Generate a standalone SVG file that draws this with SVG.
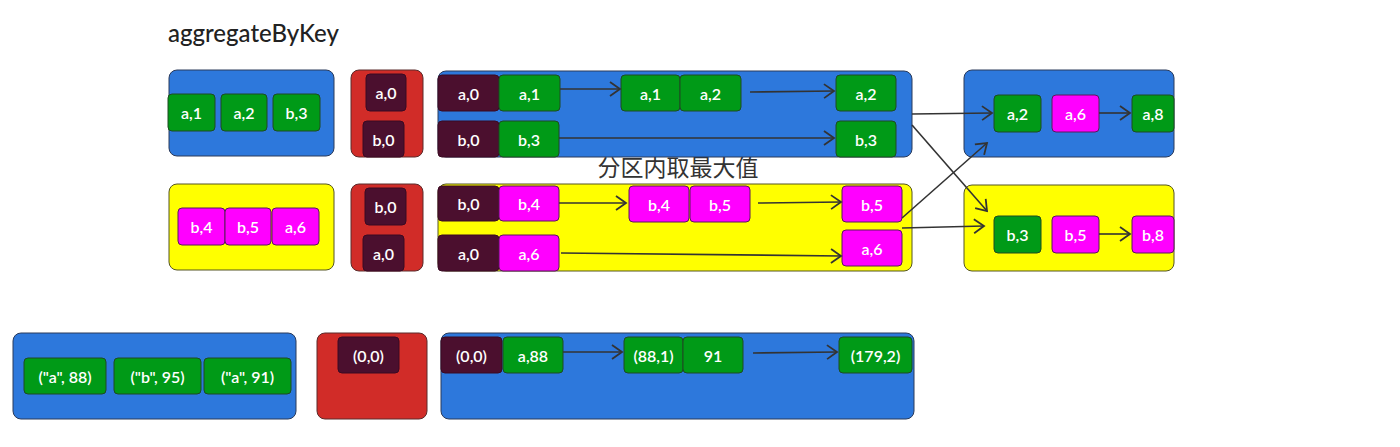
<svg xmlns="http://www.w3.org/2000/svg" width="1400" height="447" viewBox="0 0 1400 447">
<defs>
<style>
.bg{fill:#ffffff}
.blue{fill:#2d78dc;stroke:#2a3a5a;stroke-width:1}
.yel{fill:#ffff00;stroke:#555522;stroke-width:1}
.red{fill:#d12c28;stroke:#5a2a2a;stroke-width:1}
.g{fill:#009a17;stroke:#1f4a22;stroke-width:1}
.m{fill:#ff00ff;stroke:#5a1a5a;stroke-width:1}
.d{fill:#4b0f2e;stroke:#3a0a22;stroke-width:1}
.t{font-family:"Lato","Liberation Sans",sans-serif;font-size:16px;font-weight:600;fill:#ffffff;text-anchor:middle;dominant-baseline:central}
.title{font-family:"Lato","Liberation Sans",sans-serif;font-size:24px;font-weight:500;fill:#222}
.cn{font-family:"Noto Sans CJK SC",sans-serif;font-size:23px;fill:#333;text-anchor:middle}
.ar{fill:none;stroke:#333;stroke-width:1.6}
</style>
<marker id="ah" markerUnits="userSpaceOnUse" markerWidth="14" markerHeight="16" refX="11" refY="8" orient="auto">
<path d="M1,1 L11,8 L1,15" fill="none" stroke="#333" stroke-width="1.8"/>
</marker>
</defs>
<rect class="bg" x="0" y="0" width="1400" height="447"/>
<text class="title" x="168" y="42">aggregateByKey</text>
<text class="cn" x="678" y="176">分区内取最大值</text>

<g id="src1"><rect class="blue" x="169" y="70" width="165" height="86" rx="8"/>
<rect class="g" x="168" y="94" width="47" height="37" rx="4"/><text class="t" x="191.5" y="112.5">a,1</text>
<rect class="g" x="221" y="94" width="46" height="37" rx="4"/><text class="t" x="244" y="112.5">a,2</text>
<rect class="g" x="273" y="94" width="47" height="37" rx="4"/><text class="t" x="296.5" y="112.5">b,3</text></g>

<g id="src2"><rect class="yel" x="169" y="184" width="165" height="86" rx="8"/>
<rect class="m" x="178" y="208" width="47" height="37" rx="4"/><text class="t" x="201.5" y="226.5">b,4</text>
<rect class="m" x="225" y="208" width="46" height="37" rx="4"/><text class="t" x="248" y="226.5">b,5</text>
<rect class="m" x="272" y="208" width="47" height="37" rx="4"/><text class="t" x="295.5" y="226.5">a,6</text></g>

<g id="init1"><rect class="red" x="351" y="70" width="72" height="87" rx="8"/>
<rect class="d" x="366" y="74" width="40" height="37" rx="4"/><text class="t" x="386" y="92.5">a,0</text>
<rect class="d" x="363" y="121" width="41" height="36" rx="4"/><text class="t" x="383.5" y="139">b,0</text></g>

<g id="init2"><rect class="red" x="351" y="184" width="72" height="87" rx="8"/>
<rect class="d" x="365" y="188" width="41" height="37" rx="4"/><text class="t" x="385.5" y="206.5">b,0</text>
<rect class="d" x="363" y="235" width="41" height="36" rx="4"/><text class="t" x="383.5" y="253">a,0</text></g>

<g id="part1"><rect class="blue" x="438" y="71" width="474" height="86" rx="8"/>
<rect class="d" x="438" y="75" width="61" height="36" rx="4"/><text class="t" x="468.5" y="93">a,0</text>
<rect class="g" x="499" y="75" width="61" height="36" rx="4"/><text class="t" x="529.5" y="93">a,1</text>
<rect class="g" x="621" y="75" width="59" height="36" rx="4"/><text class="t" x="650.5" y="93">a,1</text>
<rect class="g" x="680" y="75" width="61" height="36" rx="4"/><text class="t" x="710.5" y="93">a,2</text>
<rect class="g" x="836" y="75" width="60" height="36" rx="4"/><text class="t" x="866" y="93">a,2</text>
<rect class="d" x="438" y="121" width="61" height="36" rx="4"/><text class="t" x="468.5" y="139">b,0</text>
<rect class="g" x="499" y="121" width="60" height="36" rx="4"/><text class="t" x="529" y="139">b,3</text>
<rect class="g" x="836" y="121" width="60" height="36" rx="4"/><text class="t" x="866" y="139">b,3</text></g>

<g id="part2"><rect class="yel" x="438" y="184" width="474" height="87" rx="8"/>
<rect class="d" x="438" y="186" width="61" height="35" rx="4"/><text class="t" x="468.5" y="203.5">b,0</text>
<rect class="m" x="499" y="186" width="60" height="35" rx="4"/><text class="t" x="529" y="203.5">b,4</text>
<rect class="m" x="629" y="186" width="60" height="36" rx="4"/><text class="t" x="659" y="204">b,4</text>
<rect class="m" x="690" y="186" width="60" height="36" rx="4"/><text class="t" x="720" y="204">b,5</text>
<rect class="m" x="842" y="186" width="60" height="36" rx="4"/><text class="t" x="872" y="204">b,5</text>
<rect class="d" x="438" y="235" width="61" height="36" rx="4"/><text class="t" x="468.5" y="253">a,0</text>
<rect class="m" x="499" y="235" width="60" height="36" rx="4"/><text class="t" x="529" y="253">a,6</text>
<rect class="m" x="842" y="230" width="60" height="36" rx="4"/><text class="t" x="872" y="248">a,6</text></g>

<g id="res1"><rect class="blue" x="964" y="70" width="210" height="87" rx="8"/>
<rect class="g" x="994" y="95" width="47" height="37" rx="4"/><text class="t" x="1017.5" y="113.5">a,2</text>
<rect class="m" x="1052" y="95" width="47" height="37" rx="4"/><text class="t" x="1075.5" y="113.5">a,6</text>
<rect class="g" x="1132" y="95" width="42" height="37" rx="4"/><text class="t" x="1153" y="113.5">a,8</text></g>

<g id="res2"><rect class="yel" x="964" y="185" width="210" height="86" rx="8"/>
<rect class="g" x="994" y="216" width="47" height="37" rx="4"/><text class="t" x="1017.5" y="234.5">b,3</text>
<rect class="m" x="1052" y="216" width="47" height="37" rx="4"/><text class="t" x="1075.5" y="234.5">b,5</text>
<rect class="m" x="1132" y="216" width="42" height="37" rx="4"/><text class="t" x="1153" y="234.5">b,8</text></g>

<g id="ex-src"><rect class="blue" x="13" y="333" width="283" height="86" rx="8"/>
<rect class="g" x="24" y="358" width="82" height="36" rx="4"/><text class="t" x="65" y="376">("a", 88)</text>
<rect class="g" x="114" y="358" width="87" height="36" rx="4"/><text class="t" x="157.5" y="376">("b", 95)</text>
<rect class="g" x="204" y="358" width="87" height="36" rx="4"/><text class="t" x="247.5" y="376">("a", 91)</text></g>

<g id="ex-init"><rect class="red" x="317" y="333" width="110" height="86" rx="8"/>
<rect class="d" x="338" y="337" width="61" height="36" rx="4"/><text class="t" x="368.5" y="355">(0,0)</text></g>

<g id="ex-part"><rect class="blue" x="441" y="333" width="473" height="86" rx="8"/>
<rect class="d" x="441" y="337" width="61" height="36" rx="4"/><text class="t" x="471.5" y="355">(0,0)</text>
<rect class="g" x="503" y="337" width="60" height="36" rx="4"/><text class="t" x="533" y="355">a,88</text>
<rect class="g" x="624" y="337" width="59" height="36" rx="4"/><text class="t" x="653.5" y="355">(88,1)</text>
<rect class="g" x="683" y="337" width="60" height="36" rx="4"/><text class="t" x="713" y="355">91</text>
<rect class="g" x="839" y="337" width="73" height="36" rx="4"/><text class="t" x="875.5" y="355">(179,2)</text></g>

<g id="connectors">
<line class="ar" x1="560" y1="89" x2="620" y2="89" marker-end="url(#ah)"/>
<line class="ar" x1="750" y1="92" x2="834" y2="91" marker-end="url(#ah)"/>
<line class="ar" x1="559" y1="138" x2="834" y2="138" marker-end="url(#ah)"/>
<line class="ar" x1="559" y1="203" x2="626" y2="203" marker-end="url(#ah)"/>
<line class="ar" x1="758" y1="203" x2="841" y2="202" marker-end="url(#ah)"/>
<line class="ar" x1="561" y1="253" x2="841" y2="256" marker-end="url(#ah)"/>
<line class="ar" x1="912" y1="114" x2="992" y2="113" marker-end="url(#ah)"/>
<line class="ar" x1="912" y1="125" x2="987" y2="211" marker-end="url(#ah)"/>
<line class="ar" x1="902" y1="218" x2="987" y2="143" marker-end="url(#ah)"/>
<line class="ar" x1="902" y1="228" x2="984" y2="226" marker-end="url(#ah)"/>
<line class="ar" x1="1099" y1="113" x2="1130" y2="113" marker-end="url(#ah)"/>
<line class="ar" x1="1099" y1="234" x2="1130" y2="234" marker-end="url(#ah)"/>
<line class="ar" x1="563" y1="352" x2="622" y2="352" marker-end="url(#ah)"/>
<line class="ar" x1="753" y1="353" x2="837" y2="352" marker-end="url(#ah)"/>
</g>
</svg>
